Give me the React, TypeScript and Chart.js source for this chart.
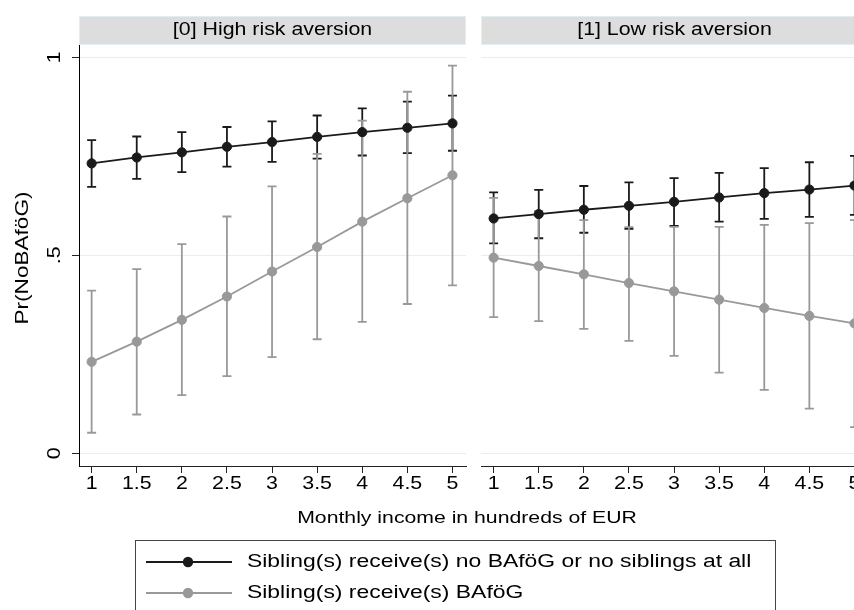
import React, { useEffect, useRef } from "react";
import { Chart, registerables } from "chart.js";

Chart.register(...registerables);

// ---------- data ----------
const incomeLevels = [1, 1.5, 2, 2.5, 3, 3.5, 4, 4.5, 5];
const xTickLabels = ["1", "1.5", "2", "2.5", "3", "3.5", "4", "4.5", "5"];
const yTickValues = [0, 0.5, 1];
const yTickLabels = ["0", ".5", "1"];
const panelTitles = ["[0] High risk aversion", "[1] Low risk aversion"];
const seriesLabels = [
  "Sibling(s) receive(s) no BAföG or no siblings at all",
  "Sibling(s) receive(s) BAföG",
];
const yAxisTitle = "Pr(NoBAföG)";
const xAxisTitle = "Monthly income in hundreds of EUR";

// Panel 0: High risk aversion
const highNoSib = [0.732, 0.747, 0.76, 0.774, 0.786, 0.799, 0.811, 0.822, 0.833];
const highNoSibLo = [0.673, 0.693, 0.71, 0.724, 0.736, 0.744, 0.752, 0.758, 0.764];
const highNoSibHi = [0.791, 0.8, 0.811, 0.824, 0.838, 0.853, 0.871, 0.888, 0.903];
const highSib = [0.231, 0.282, 0.337, 0.396, 0.459, 0.521, 0.585, 0.644, 0.702];
const highSibLo = [0.052, 0.098, 0.147, 0.195, 0.243, 0.288, 0.332, 0.377, 0.424];
const highSibHi = [0.411, 0.465, 0.528, 0.598, 0.674, 0.756, 0.84, 0.913, 0.979];

// Panel 1: Low risk aversion
const lowNoSib = [0.593, 0.604, 0.615, 0.625, 0.635, 0.646, 0.657, 0.666, 0.676];
const lowNoSibLo = [0.53, 0.543, 0.557, 0.567, 0.574, 0.585, 0.592, 0.597, 0.602];
const lowNoSibHi = [0.659, 0.665, 0.675, 0.684, 0.695, 0.708, 0.72, 0.735, 0.751];
const lowSib = [0.494, 0.473, 0.452, 0.43, 0.409, 0.388, 0.367, 0.347, 0.328];
const lowSibLo = [0.344, 0.334, 0.314, 0.284, 0.246, 0.204, 0.16, 0.113, 0.066];
const lowSibHi = [0.645, 0.612, 0.589, 0.571, 0.572, 0.572, 0.577, 0.581, 0.589];

// ---------- style ----------
const BLACK = "#1a1a1a";
const GRAY = "#999999";
const GRID = "#e6eef0";
const AXIS = "#222222";
const STRIP = "#dddddd";
const FONT = "'Liberation Sans', Arial, Helvetica, sans-serif";
const STRETCH = 1.22;
const X_MIN = 0.86;
const X_MAX = 5.15;
const Y_MIN = -0.032;
const Y_MAX = 1.031;

function txt(
  ctx: CanvasRenderingContext2D,
  text: string,
  x: number,
  y: number,
  size: number,
  align: CanvasTextAlign,
  rotate = 0,
  color = "#000"
) {
  ctx.save();
  ctx.translate(x, y);
  if (rotate) ctx.rotate(rotate);
  ctx.scale(STRETCH, 1);
  ctx.font = `${size}px ${FONT}`;
  ctx.textAlign = align;
  ctx.textBaseline = "middle";
  ctx.fillStyle = color;
  ctx.fillText(text, 0, 0);
  ctx.restore();
}

type Series = { mean: number[]; lo: number[]; hi: number[]; color: string };

function makeChart(
  canvas: HTMLCanvasElement,
  panelIndex: number,
  series: Series[],
  left: boolean,
  padding: { left: number; top: number; right: number; bottom: number }
) {
  const decor = {
    id: "panelDecor" + panelIndex,
    beforeDatasetsDraw(chart: any) {
      const ctx = chart.ctx as CanvasRenderingContext2D;
      const xs = chart.scales.x;
      const ys = chart.scales.y;
      ctx.save();
      ctx.lineWidth = 1.8;
      series.forEach((s) => {
        ctx.strokeStyle = s.color;
        incomeLevels.forEach((v, i) => {
          const px = xs.getPixelForValue(v);
          const pLo = ys.getPixelForValue(s.lo[i]);
          const pHi = ys.getPixelForValue(s.hi[i]);
          ctx.beginPath();
          ctx.moveTo(px, pLo);
          ctx.lineTo(px, pHi);
          ctx.moveTo(px - 4.5, pLo);
          ctx.lineTo(px + 4.5, pLo);
          ctx.moveTo(px - 4.5, pHi);
          ctx.lineTo(px + 4.5, pHi);
          ctx.stroke();
        });
      });
      ctx.restore();
    },
    afterDraw(chart: any) {
      const ctx = chart.ctx as CanvasRenderingContext2D;
      const area = chart.chartArea;
      const xs = chart.scales.x;
      const ys = chart.scales.y;
      // strip
      ctx.save();
      ctx.fillStyle = STRIP;
      ctx.fillRect(area.left, 16, area.right - area.left, 29);
      ctx.strokeStyle = "#e4edf2";
      ctx.lineWidth = 1;
      ctx.strokeRect(area.left + 0.5, 16.5, area.right - area.left - 1, 28);
      ctx.restore();
      txt(ctx, panelTitles[panelIndex], (area.left + area.right) / 2, 30.5, 17.5, "center");
      // x tick labels
      incomeLevels.forEach((v, i) => {
        txt(ctx, xTickLabels[i], xs.getPixelForValue(v), 484, 17.5, "center");
      });
      if (left) {
        yTickValues.forEach((v, i) => {
          txt(ctx, yTickLabels[i], 55, ys.getPixelForValue(v), 17.5, "center", -Math.PI / 2);
        });
        txt(ctx, yAxisTitle, 23, 258, 18.5, "center", -Math.PI / 2);
        txt(ctx, xAxisTitle, 467, 518, 17.4, "center");
        // legend
        ctx.save();
        ctx.strokeStyle = "#444";
        ctx.lineWidth = 1;
        ctx.strokeRect(135.5, 540.5, 640, 100);
        const rows = [562, 593];
        const cols = [BLACK, GRAY];
        rows.forEach((ry, k) => {
          ctx.strokeStyle = cols[k];
          ctx.lineWidth = 1.8;
          ctx.beginPath();
          ctx.moveTo(146, ry);
          ctx.lineTo(232, ry);
          ctx.stroke();
          ctx.fillStyle = cols[k];
          ctx.beginPath();
          ctx.arc(188, ry, 5.2, 0, Math.PI * 2);
          ctx.fill();
        });
        ctx.restore();
        rows.forEach((ry, k) => {
          txt(ctx, seriesLabels[k], 247, ry, 18.8, "left");
        });
      }
    },
  };

  return new Chart(canvas, {
    type: "line",
    data: {
      datasets: series.map((s, k) => ({
        label: seriesLabels[k],
        data: incomeLevels.map((v, i) => ({ x: v, y: s.mean[i] })),
        borderColor: s.color,
        backgroundColor: s.color,
        pointBackgroundColor: s.color,
        pointBorderColor: s.color,
        borderWidth: 1.8,
        pointRadius: 4.6,
        pointBorderWidth: 1,
        tension: 0,
        fill: false,
      })),
    },
    options: {
      responsive: false,
      animation: false,
      events: [],
      layout: { padding, autoPadding: false } as any,
      plugins: { legend: { display: false }, title: { display: false }, tooltip: { enabled: false } },
      scales: {
        x: {
          type: "linear",
          min: X_MIN,
          max: X_MAX,
          afterBuildTicks: (sc: any) => {
            sc.ticks = incomeLevels.map((v) => ({ value: v }));
          },
          afterFit: (sc: any) => {
            sc.height = 34;
          },
          ticks: { display: false },
          grid: {
            drawOnChartArea: false,
            drawTicks: true,
            tickLength: 7,
            tickColor: AXIS,
            tickWidth: 1,
          },
          border: { display: true, color: AXIS, width: 1 },
        },
        y: {
          type: "linear",
          min: Y_MIN,
          max: Y_MAX,
          afterBuildTicks: (sc: any) => {
            sc.ticks = yTickValues.map((v) => ({ value: v }));
          },
          afterFit: (sc: any) => {
            sc.width = left ? 79 : 0;
          },
          ticks: { display: false },
          grid: {
            color: GRID,
            lineWidth: 1,
            drawTicks: left,
            tickLength: 7,
            tickColor: AXIS,
            tickWidth: 1,
          },
          border: { display: left, color: "#000", width: 1 },
        },
      },
    } as any,
    plugins: [decor],
  });
}

export default function App() {
  const leftRef = useRef<HTMLCanvasElement>(null);
  const rightRef = useRef<HTMLCanvasElement>(null);

  useEffect(() => {
    const c1 = makeChart(
      leftRef.current!,
      0,
      [
        { mean: highNoSib, lo: highNoSibLo, hi: highNoSibHi, color: BLACK },
        { mean: highSib, lo: highSibLo, hi: highSibHi, color: GRAY },
      ],
      true,
      { left: 0, top: 45, right: 388, bottom: 110 }
    );
    const c2 = makeChart(
      rightRef.current!,
      1,
      [
        { mean: lowNoSib, lo: lowNoSibLo, hi: lowNoSibHi, color: BLACK },
        { mean: lowSib, lo: lowSibLo, hi: lowSibHi, color: GRAY },
      ],
      false,
      { left: 11, top: 45, right: 22, bottom: 0 }
    );
    return () => {
      c1.destroy();
      c2.destroy();
    };
  }, []);

  return (
    <div
      style={{
        position: "absolute",
        left: 0,
        top: 0,
        width: 854,
        height: 610,
        overflow: "hidden",
        background: "#fff",
      }}
    >
      <canvas
        ref={leftRef}
        width={854}
        height={610}
        style={{ position: "absolute", left: 0, top: 0, width: 854, height: 610 }}
      />
      <canvas
        ref={rightRef}
        width={420}
        height={500}
        style={{ position: "absolute", left: 470, top: 0, width: 420, height: 500 }}
      />
    </div>
  );
}
